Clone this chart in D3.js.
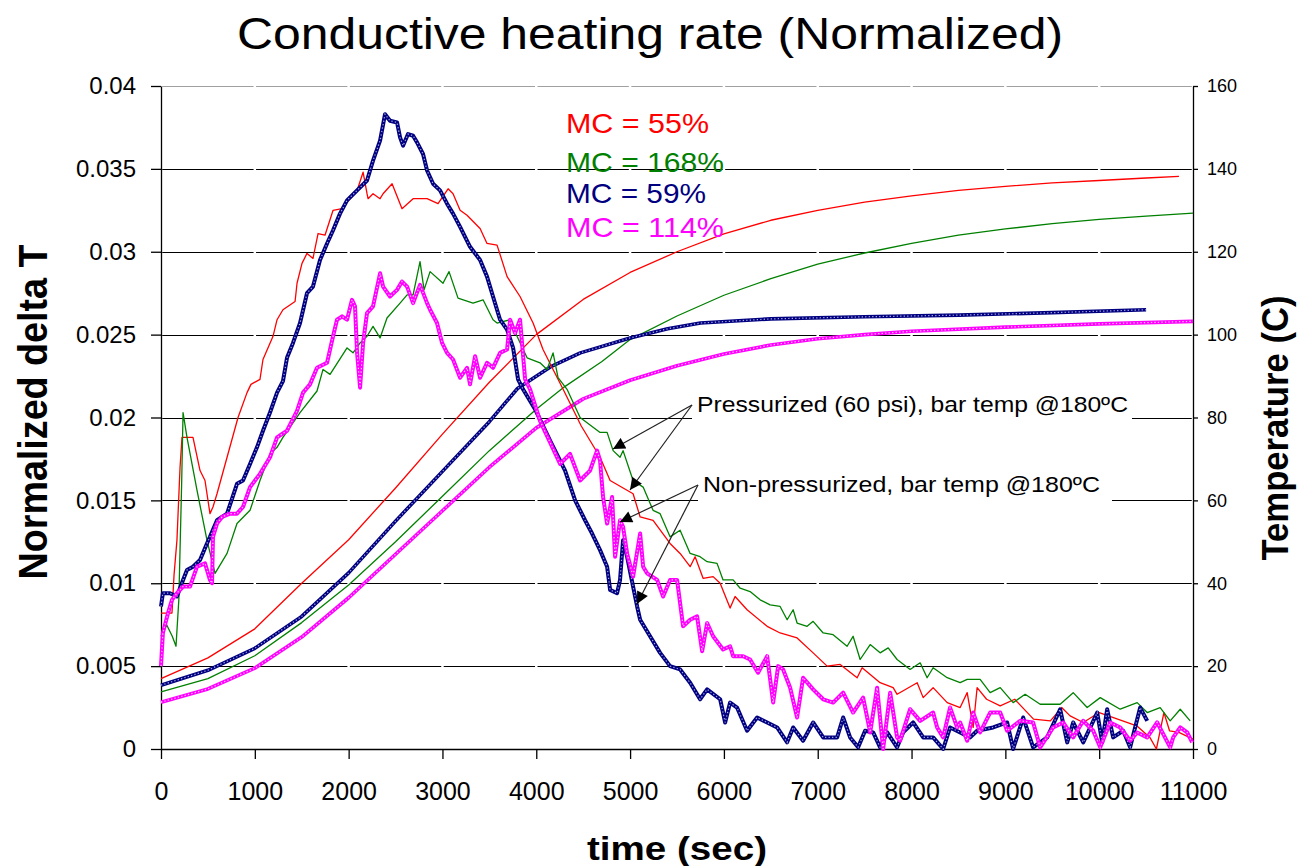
<!DOCTYPE html>
<html>
<head>
<meta charset="utf-8">
<script src="https://cdn.jsdelivr.net/npm/d3@7"></script>
<style>
body { margin: 0; background: #fff; }
svg { display: block; }
text { font-family: "Liberation Sans", Arial, sans-serif; }
</style>
</head>
<body>
<div id="chart"></div>
<script>
// ---- data: [time (s), value] ----
const leftTicks = [0, 0.005, 0.01, 0.015, 0.02, 0.025, 0.03, 0.035, 0.04]
const rightTicks = [0, 20, 40, 60, 80, 100, 120, 140, 160]
const timeTicks = [0, 1000, 2000, 3000, 4000, 5000, 6000, 7000, 8000, 9000, 10000, 11000]

const legendLabels = ['MC = 55%', 'MC = 168%', 'MC = 59%', 'MC = 114%']

// temperature (C), right axis
const tempRed = [[0,17],[500,22],[1000,29],[1500,40],[2000,50.5],[2500,63],[3000,76],[3500,88.5],[4000,100],[4500,108.5],[5000,115],[5500,120],[6000,124.3],[6500,127.6],[7000,130],[7500,132],[8000,133.5],[8500,134.8],[9000,135.8],[9500,136.6],[10000,137.2],[10500,137.8],[10850,138.2]]
const tempGreen = [[0,13.8],[500,17],[1000,22.5],[1500,30.5],[2000,39.6],[2500,50],[3000,61],[3500,72],[4000,82],[4300,87.4],[4700,93.5],[5000,98.8],[5500,104.5],[6000,109.5],[6500,113.5],[7000,117],[7500,119.7],[8000,122],[8500,124],[9000,125.5],[9500,126.8],[10000,127.8],[10500,128.6],[11000,129.3]]
const tempBlue = [[0,15.4],[500,19],[1000,24.3],[1500,32],[2000,42.5],[2500,55],[3000,67],[3500,79],[3800,87],[4150,92.2],[4470,95.6],[5000,99.2],[5400,101.4],[5750,102.8],[6500,103.8],[7500,104.3],[8500,104.7],[9500,105.3],[10500,106]]
const tempMagenta = [[0,11.3],[500,14.5],[1000,19.5],[1500,27],[2000,36.5],[2500,47],[3000,57.5],[3500,68],[4000,77.5],[4500,84.5],[5000,89],[5500,92.5],[6000,95.3],[6500,97.5],[7000,99],[7500,100],[8000,100.8],[9000,101.8],[10000,102.6],[11000,103.2]]

// normalized delta T, left axis
const dtRed = [[0,0.0082],[117,0.0082],[139,0.0105],[170,0.0126],[203,0.017],[224,0.0188],[341,0.0188],[416,0.0168],[469,0.0162],[522,0.0142],[554,0.0146],[597,0.0154],[821,0.020],[917,0.0215],[959,0.022],[1055,0.0223],[1087,0.0235],[1194,0.0249],[1237,0.0259],[1300,0.0265],[1429,0.027],[1450,0.0281],[1503,0.0293],[1556,0.0299],[1620,0.0296],[1674,0.0311],[1748,0.031],[1834,0.0325],[1930,0.0326],[2015,0.0332],[2090,0.0337],[2154,0.0348],[2196,0.0335],[2207,0.0332],[2260,0.0335],[2335,0.0332],[2367,0.0335],[2463,0.0341],[2569,0.0326],[2687,0.0332],[2836,0.0332],[2953,0.0329],[3060,0.0338],[3113,0.0335],[3188,0.0325],[3262,0.0322],[3401,0.0314],[3475,0.0305],[3582,0.0304],[3689,0.0285],[3827,0.0273],[3966,0.0257],[4072,0.0241],[4179,0.0229],[4286,0.0217],[4478,0.0195],[4680,0.0176],[4787,0.0162],[5032,0.0154],[5107,0.014],[5245,0.0138],[5426,0.0124],[5533,0.0118],[5640,0.011],[5693,0.0116],[5778,0.0103],[5885,0.0104],[5960,0.010],[6066,0.0085],[6119,0.0092],[6247,0.0084],[6461,0.0074],[6599,0.007],[6780,0.0067],[6951,0.0058],[7100,0.005],[7239,0.0051],[7420,0.0043],[7473,0.0049],[7665,0.004],[7804,0.0037],[7846,0.0033],[8060,0.004],[8124,0.0031],[8230,0.0037],[8380,0.0028],[8518,0.0025],[8593,0.0034],[8657,0.0013],[8699,0.0037],[8800,0.003],[8945,0.0026],[9100,0.003],[9300,0.0018],[9480,0.0017],[9600,0.0025],[9690,0.002],[9830,0.0016],[10000,0.0022],[10250,0.0017],[10400,0.0014],[10540,0.0007],[10610,0.0],[10690,0.0022],[10750,0.0011],[10850,0.001],[11000,0.0006]]
const dtGreen = [[0,0.0068],[60,0.0075],[120,0.0068],[160,0.0062],[190,0.009],[220,0.016],[235,0.0203],[277,0.0188],[384,0.0156],[490,0.0126],[576,0.0106],[704,0.0118],[810,0.0136],[949,0.0144],[1055,0.0162],[1162,0.0178],[1237,0.0182],[1300,0.0188],[1482,0.0203],[1663,0.0216],[1727,0.0229],[1802,0.0226],[1983,0.0242],[2047,0.0239],[2122,0.0245],[2196,0.0249],[2260,0.0255],[2335,0.0248],[2409,0.026],[2548,0.0269],[2623,0.0274],[2687,0.0274],[2761,0.0294],[2804,0.0277],[2868,0.0288],[3006,0.0281],[3070,0.0288],[3166,0.0272],[3326,0.0269],[3433,0.0271],[3539,0.0259],[3582,0.0257],[3721,0.0259],[3795,0.0249],[3902,0.0236],[4040,0.0233],[4115,0.0229],[4179,0.0239],[4232,0.0224],[4328,0.0217],[4467,0.020],[4680,0.0191],[4755,0.0191],[4819,0.018],[4893,0.0176],[4925,0.018],[5032,0.0162],[5139,0.0158],[5245,0.0144],[5320,0.0142],[5426,0.0128],[5533,0.0132],[5640,0.0118],[5746,0.0116],[5821,0.0113],[5927,0.0112],[5991,0.0102],[6098,0.0102],[6173,0.0097],[6279,0.0095],[6386,0.009],[6493,0.0087],[6599,0.0086],[6674,0.0078],[6738,0.0084],[6780,0.0076],[6887,0.0074],[6951,0.0077],[7058,0.007],[7164,0.0069],[7313,0.0062],[7377,0.0068],[7452,0.0054],[7559,0.0063],[7665,0.0058],[7751,0.0061],[7846,0.0054],[7985,0.0048],[8092,0.0052],[8166,0.0043],[8230,0.0049],[8380,0.0043],[8518,0.004],[8593,0.0042],[8731,0.0042],[8838,0.0034],[8945,0.0037],[9083,0.0028],[9211,0.0033],[9371,0.0027],[9584,0.0027],[9723,0.0034],[9872,0.0025],[10011,0.0031],[10224,0.0024],[10405,0.0028],[10512,0.0022],[10650,0.0025],[10757,0.0017],[10864,0.0024],[10970,0.0017]]
const dtBlue = [[0,0.0086],[20,0.0094],[96,0.0094],[170,0.0092],[235,0.0102],[277,0.0108],[341,0.011],[416,0.0114],[490,0.0124],[522,0.0128],[597,0.0138],[704,0.0142],[810,0.016],[874,0.0162],[949,0.0172],[1023,0.0182],[1087,0.0192],[1162,0.0203],[1237,0.0215],[1300,0.0222],[1343,0.0236],[1407,0.0245],[1482,0.0257],[1556,0.0275],[1620,0.0279],[1695,0.0295],[1770,0.0305],[1834,0.0313],[1908,0.0323],[1983,0.0331],[2090,0.0337],[2196,0.0343],[2260,0.0355],[2335,0.0367],[2388,0.0383],[2441,0.0379],[2516,0.0378],[2548,0.0369],[2580,0.0364],[2633,0.0371],[2687,0.037],[2729,0.0366],[2793,0.0359],[2836,0.0349],[2900,0.0341],[2974,0.0337],[3049,0.0329],[3113,0.0323],[3188,0.0315],[3294,0.0303],[3401,0.0295],[3475,0.0285],[3539,0.0273],[3614,0.0259],[3689,0.0253],[3753,0.0242],[3806,0.0223],[3859,0.0217],[3987,0.0205],[4147,0.0186],[4307,0.0168],[4414,0.015],[4520,0.0138],[4595,0.013],[4680,0.012],[4755,0.011],[4787,0.0096],[4861,0.0094],[4893,0.0102],[4925,0.0126],[4968,0.0116],[5032,0.0098],[5075,0.0086],[5107,0.0078],[5213,0.0068],[5320,0.0058],[5426,0.005],[5533,0.0048],[5640,0.004],[5746,0.003],[5821,0.0036],[5960,0.003],[6013,0.0016],[6066,0.0028],[6140,0.0025],[6247,0.0011],[6354,0.0019],[6461,0.0016],[6567,0.0013],[6674,0.0004],[6738,0.0013],[6844,0.0005],[6951,0.0016],[7058,0.0007],[7207,0.0007],[7271,0.0019],[7345,0.0007],[7431,0.0001],[7505,0.0011],[7591,0.001],[7665,0.0001],[7740,0.001],[7846,0.0001],[7910,0.001],[8017,0.0016],[8124,0.0007],[8230,0.0007],[8337,0],[8411,0.0013],[8518,0.001],[8625,0.0007],[8699,0.0011],[8870,0.0013],[9019,0.0016],[9083,0],[9190,0.0019],[9296,0.0001],[9446,0.0007],[9584,0.0024],[9659,0.0004],[9723,0.0016],[9830,0.0004],[9979,0.0022],[10032,0.0004],[10085,0.0024],[10149,0.0007],[10256,0.0011],[10330,0.0001],[10437,0.0025],[10512,0.0017]]
const dtMagenta = [[0,0.005],[20,0.007],[75,0.0082],[117,0.009],[170,0.0094],[235,0.0098],[309,0.0098],[384,0.011],[469,0.0112],[522,0.0102],[544,0.010],[554,0.0128],[597,0.0136],[650,0.014],[736,0.0142],[810,0.0142],[874,0.0146],[949,0.0158],[1055,0.0166],[1162,0.0176],[1237,0.0188],[1343,0.0192],[1450,0.0204],[1514,0.0215],[1588,0.022],[1663,0.023],[1770,0.0233],[1802,0.0241],[1834,0.0249],[1876,0.0259],[1930,0.0261],[1983,0.0259],[2036,0.0271],[2068,0.0267],[2090,0.0239],[2122,0.0218],[2154,0.0245],[2196,0.0263],[2260,0.0267],[2335,0.0287],[2367,0.0279],[2441,0.0273],[2516,0.0277],[2569,0.0282],[2623,0.0279],[2687,0.0269],[2740,0.0277],[2761,0.028],[2836,0.0269],[2868,0.0265],[2942,0.0257],[2996,0.0245],[3049,0.0239],[3113,0.0235],[3188,0.0224],[3262,0.023],[3294,0.022],[3348,0.0237],[3401,0.0224],[3475,0.0233],[3539,0.023],[3614,0.0239],[3689,0.0241],[3721,0.0259],[3774,0.0251],[3827,0.0259],[3881,0.0223],[3934,0.0217],[4040,0.0198],[4147,0.0185],[4254,0.0172],[4360,0.0178],[4467,0.0162],[4573,0.0168],[4648,0.018],[4680,0.0174],[4712,0.0152],[4755,0.0136],[4808,0.0152],[4840,0.0116],[4893,0.0138],[4925,0.0134],[4968,0.0118],[5032,0.0104],[5107,0.013],[5139,0.011],[5181,0.0106],[5288,0.0102],[5352,0.0092],[5426,0.0102],[5501,0.0102],[5565,0.0074],[5640,0.0078],[5714,0.008],[5768,0.0059],[5821,0.0076],[5885,0.0068],[5991,0.006],[6066,0.0062],[6098,0.0056],[6205,0.0056],[6279,0.0054],[6364,0.0046],[6461,0.0056],[6525,0.0028],[6578,0.005],[6631,0.0048],[6706,0.0037],[6780,0.0019],[6844,0.0043],[6951,0.0036],[7058,0.003],[7164,0.0028],[7271,0.0034],[7377,0.0022],[7484,0.0031],[7559,0.001],[7633,0.0037],[7697,0],[7772,0.0034],[7846,0.0007],[7878,0.0005],[7985,0.0024],[8092,0.0017],[8230,0.0022],[8273,0.0013],[8337,0.0007],[8411,0.0025],[8486,0.0013],[8518,0.0016],[8593,0.0005],[8657,0.0022],[8731,0.001],[8838,0.0022],[8945,0.0022],[9019,0.0011],[9158,0.0017],[9296,0.0016],[9371,0.0001],[9510,0.0013],[9616,0.0016],[9723,0.0007],[9830,0.0017],[9936,0.0011],[10011,0.0001],[10117,0.0016],[10224,0.0013],[10330,0.0005],[10405,0.001],[10512,0.0007],[10618,0.0016],[10757,0.0001],[10789,0.0007],[10864,0.0013],[10938,0.001],[10991,0.0004]]

// ---- layout ----
const width = 1305
const height = 866
const margin = { top: 86, right: 112, bottom: 117, left: 161 }
const plotW = width - margin.left - margin.right
const plotH = height - margin.top - margin.bottom

const RED = '#ff0000'
const GREEN = '#008000'
const NAVY = '#000080'
const MAGENTA = '#ff00ff'

const svg = d3.select('#chart').append('svg')
	.attr('width', width)
	.attr('height', height)

const x = d3.scaleLinear().domain([0, 11000]).range([margin.left, margin.left + plotW])
const yL = d3.scaleLinear().domain([0, 0.04]).range([margin.top + plotH, margin.top])
const yR = d3.scaleLinear().domain([0, 160]).range([margin.top + plotH, margin.top])

// gridlines (little gaps where the time ticks are, as in the original)
const step = x(1000) - x(0)
svg.append('g').attr('class', 'grid')
	.selectAll('line')
	.data(leftTicks.filter(d => d > 0))
	.enter().append('line')
		.attr('x1', x(0))
		.attr('x2', x(11000))
		.attr('y1', d => Math.round(yL(d)) + 0.5)
		.attr('y2', d => Math.round(yL(d)) + 0.5)
		.attr('stroke', d => d === 0.04 ? '#a0a0a0' : '#000')
		.attr('stroke-width', 1.2)
		.attr('stroke-dasharray', `${step - 2.5} 2.5`)
		.attr('stroke-dashoffset', -1.25)

// axes
const fmtL = d => d === 0 ? '0' : d3.format('')(d)

const axisL = svg.append('g')
	.attr('transform', `translate(${margin.left},0)`)
	.call(d3.axisLeft(yL).tickValues(leftTicks).tickFormat(fmtL).tickSize(10).tickSizeOuter(0).tickPadding(15))
axisL.selectAll('text').style('font-size', '24px').attr('fill', '#000')

const axisR = svg.append('g')
	.attr('transform', `translate(${margin.left + plotW},0)`)
	.call(d3.axisRight(yR).tickValues(rightTicks).tickSize(5).tickSizeOuter(0).tickPadding(9))
axisR.selectAll('text').style('font-size', '18px').attr('fill', '#000')

const axisB = svg.append('g')
	.attr('transform', `translate(0,${margin.top + plotH})`)
	.call(d3.axisBottom(x).tickValues(timeTicks).tickFormat(d3.format('d')).tickSize(10).tickSizeOuter(0).tickPadding(23))
axisB.selectAll('text').style('font-size', '25px').attr('fill', '#000')

svg.selectAll('.domain, .tick line').attr('stroke', '#000').attr('stroke-width', 1.3)

// series
const lineR = d3.line().x(d => x(d[0])).y(d => yR(d[1]))
const lineL = d3.line().x(d => x(d[0])).y(d => yL(d[1]))

function drawThin(data, gen, color) {
	svg.append('path')
		.datum(data)
		.attr('d', gen)
		.attr('fill', 'none')
		.attr('stroke', color)
		.attr('stroke-width', 1.3)
		.attr('stroke-linejoin', 'round')
}

function drawThick(data, gen, color, inner, w) {
	const g = svg.append('g')
	g.append('path')
		.datum(data)
		.attr('d', gen)
		.attr('fill', 'none')
		.attr('stroke', color)
		.attr('stroke-width', w)
		.attr('stroke-linejoin', 'round')
	// lighter dotted core to imitate the small square markers
	g.append('path')
		.datum(data)
		.attr('d', gen)
		.attr('fill', 'none')
		.attr('stroke', inner)
		.attr('stroke-width', 1.2)
		.attr('stroke-dasharray', '1.3 2.2')
}

drawThin(tempRed, lineR, RED)
drawThin(tempGreen, lineR, GREEN)
drawThick(tempBlue, lineR, NAVY, '#a8a8dc', 3.6)
drawThick(tempMagenta, lineR, MAGENTA, '#ffc8ff', 3.6)

drawThin(dtRed, lineL, RED)
drawThin(dtGreen, lineL, GREEN)
drawThick(dtBlue, lineL, NAVY, '#a8a8dc', 4)
drawThick(dtMagenta, lineL, MAGENTA, '#ffc8ff', 4)

// legend text
const legendColors = [RED, GREEN, NAVY, MAGENTA]
const legendY = [133, 172, 203, 237]
const legendW = [143, 158, 140, 158]
svg.append('g').selectAll('text')
	.data(legendLabels)
	.enter().append('text')
		.attr('x', 566)
		.attr('y', (d, i) => legendY[i])
		.attr('fill', (d, i) => legendColors[i])
		.attr('textLength', (d, i) => legendW[i])
		.attr('lengthAdjust', 'spacingAndGlyphs')
		.style('font-size', '28px')
		.text(d => d)

// annotations with arrows
const defs = svg.append('defs')
defs.append('marker')
	.attr('id', 'arrow')
	.attr('viewBox', '0 0 10 10')
	.attr('refX', 10).attr('refY', 5)
	.attr('markerWidth', 14).attr('markerHeight', 12)
	.attr('markerUnits', 'userSpaceOnUse')
	.attr('orient', 'auto')
	.append('path').attr('d', 'M0,0L10,5L0,10Z').attr('fill', '#000')

const notes = [
	{ text: 'Pressurized (60 psi), bar temp @180\u00baC', x: 697, y: 412, w: 431, box: [692, 393, 440, 28],
		from: [692, 405], to: [[613, 449], [630, 490]] },
	{ text: 'Non-pressurized, bar temp @180\u00baC', x: 703, y: 492, w: 397, box: [698, 473, 414, 28],
		from: [698, 485], to: [[620, 522], [637, 604]] }
]

notes.forEach(n => {
	svg.append('rect')
		.attr('x', n.box[0]).attr('y', n.box[1])
		.attr('width', n.box[2]).attr('height', n.box[3])
		.attr('fill', '#fff')
	svg.append('text')
		.attr('x', n.x)
		.attr('y', n.y)
		.attr('textLength', n.w)
		.attr('lengthAdjust', 'spacingAndGlyphs')
		.style('font-size', '22px')
		.attr('fill', '#000')
		.text(n.text)
	n.to.forEach(t => {
		svg.append('line')
			.attr('x1', n.from[0]).attr('y1', n.from[1])
			.attr('x2', t[0]).attr('y2', t[1])
			.attr('stroke', '#222')
			.attr('stroke-width', 1.2)
			.attr('marker-end', 'url(#arrow)')
	})
})

// titles
svg.append('text')
	.attr('x', 237)
	.attr('y', 49)
	.attr('textLength', 826)
	.attr('lengthAdjust', 'spacingAndGlyphs')
	.style('font-size', '44px')
	.text('Conductive heating rate (Normalized)')

svg.append('text')
	.attr('transform', 'translate(47,412) rotate(-90)')
	.attr('text-anchor', 'middle')
	.attr('textLength', 335)
	.attr('lengthAdjust', 'spacingAndGlyphs')
	.style('font-size', '40px')
	.style('font-weight', 'bold')
	.text('Normalized delta T')

svg.append('text')
	.attr('transform', 'translate(1288,428) rotate(-90)')
	.attr('text-anchor', 'middle')
	.attr('textLength', 265)
	.attr('lengthAdjust', 'spacingAndGlyphs')
	.style('font-size', '36px')
	.style('font-weight', 'bold')
	.text('Temperature (C)')

svg.append('text')
	.attr('x', 677)
	.attr('y', 860)
	.attr('text-anchor', 'middle')
	.attr('textLength', 180)
	.attr('lengthAdjust', 'spacingAndGlyphs')
	.style('font-size', '34px')
	.style('font-weight', 'bold')
	.text('time (sec)')
</script>
</body>
</html>
